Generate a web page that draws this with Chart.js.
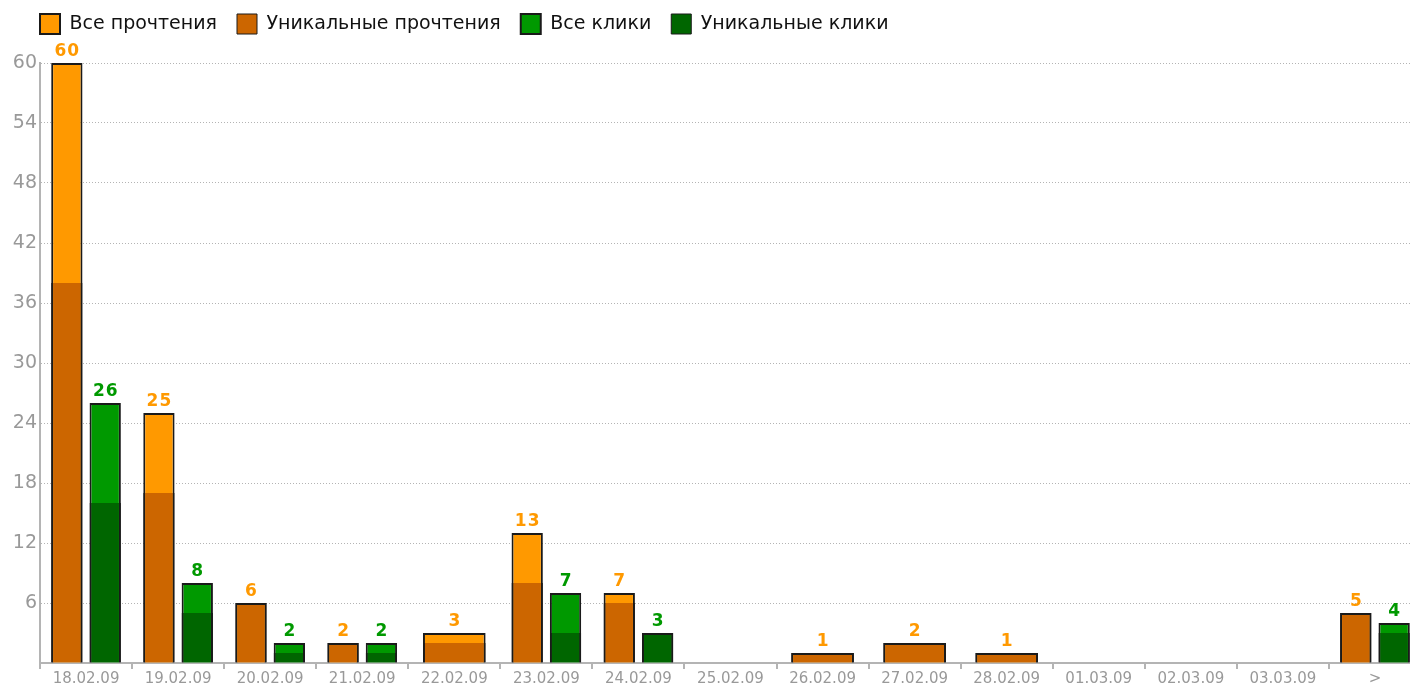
<!DOCTYPE html>
<html>
<head>
<meta charset="utf-8">
<script src="https://cdn.jsdelivr.net/npm/chart.js@4/dist/chart.umd.min.js"></script>
<style>
    html, body { margin: 0; padding: 0; background: #fff; overflow: hidden; }
    .chart-box { width: 1421px; height: 687px; }
</style>
</head>
<body>
<div class="chart-box"><canvas id="chart"></canvas></div>
<script>
const labels = ['18.02.09', '19.02.09', '20.02.09', '21.02.09', '22.02.09', '23.02.09', '24.02.09',
    '25.02.09', '26.02.09', '27.02.09', '28.02.09', '01.03.09', '02.03.09', '03.03.09', '>'];
const allReads     = [60, 25, 6, 2, 3, 13, 7, 0, 1, 2, 1, 0, 0, 0, 5];
const uniqueReads  = [38, 17, 6, 2, 2,  8, 6, 0, 1, 2, 1, 0, 0, 0, 5];
const allClicks    = [26,  8, 2, 2, 0,  7, 3, 0, 0, 0, 0, 0, 0, 0, 4];
const uniqueClicks = [16,  5, 1, 1, 0,  3, 3, 0, 0, 0, 0, 0, 0, 0, 3];
const yTicks = [0, 6, 12, 18, 24, 30, 36, 42, 48, 54, 60];

// zero -> no bar, so the other group takes the whole category
const orNull = arr => arr.map(v => v === 0 ? null : v);

// unique bar sits over the full bar: no top border unless it reaches the top
function uniqueBorder(all, uniq) {
    return ctx => {
        if (ctx.type !== 'data') return 2;
        const i = ctx.dataIndex;
        return { left: 2, right: 2, bottom: 0, top: all[i] === uniq[i] ? 2 : 0 };
    };
}

const valueLabels = {
    id: 'valueLabels',
    afterDatasetsDraw(chart) {
        const ctx = chart.ctx;
        ctx.save();
        ctx.font = 'bold 17px "DejaVu Sans"';
        ctx.textAlign = 'center';
        ctx.textBaseline = 'alphabetic';
        ctx.letterSpacing = '1px';
        [[0, allReads, '#ff9900'], [2, allClicks, '#009900']].forEach(([idx, values, color]) => {
            const meta = chart.getDatasetMeta(idx);
            ctx.fillStyle = color;
            meta.data.forEach((bar, i) => {
                if (!values[i]) return;
                ctx.fillText(String(values[i]), bar.x + 0.5, bar.y - 7);
            });
        });
        ctx.restore();
    }
};

// legend height fixed so the plot starts at the 60 line; legend nudged right
const legendFit = {
    id: 'legendFit',
    beforeInit(chart) {
        const fit = chart.legend.fit;
        chart.legend.fit = function () {
            fit.bind(chart.legend)();
            this.height = 69;
        };
    },
    afterLayout(chart) {
        chart.legend.left += 10;
        chart.legend.right += 10;
    }
};

const chart = new Chart(document.getElementById('chart'), {
    type: 'bar',
    data: {
        labels: labels,
        datasets: [
            {
                label: 'Все прочтения', data: orNull(allReads), stack: 'reads', order: 1,
                backgroundColor: '#ff9900', borderColor: '#1a1a1a', borderWidth: 2
            },
            {
                label: 'Уникальные прочтения', data: orNull(uniqueReads), stack: 'reads', order: 0,
                backgroundColor: '#cc6600', borderColor: '#1a1a1a',
                borderWidth: uniqueBorder(allReads, uniqueReads), borderSkipped: false
            },
            {
                label: 'Все клики', data: orNull(allClicks), stack: 'clicks', order: 1,
                backgroundColor: '#009900', borderColor: '#1a1a1a', borderWidth: 2
            },
            {
                label: 'Уникальные клики', data: orNull(uniqueClicks), stack: 'clicks', order: 0,
                backgroundColor: '#006600', borderColor: '#1a1a1a',
                borderWidth: uniqueBorder(allClicks, uniqueClicks), borderSkipped: false
            }
        ]
    },
    options: {
        responsive: true,
        maintainAspectRatio: false,
        animation: false,
        skipNull: true,
        categoryPercentage: 0.833,
        barPercentage: 0.817,
        layout: { padding: { left: 10, top: -6, right: 0, bottom: 0 } },
        plugins: {
            tooltip: { enabled: false },
            legend: {
                position: 'top',
                align: 'start',
                labels: {
                    boxWidth: 20,
                    boxHeight: 20,
                    padding: 20,
                    color: '#111',
                    font: { family: '"DejaVu Sans"', size: 19 },
                    sort: (a, b) => a.datasetIndex - b.datasetIndex
                }
            }
        },
        scales: {
            x: {
                stacked: true,
                grid: { drawOnChartArea: false, drawTicks: true, tickLength: 6, color: '#b4b4b4', lineWidth: 2, offset: true },
                border: { color: '#b4b4b4', width: 2 },
                ticks: {
                    color: '#999999', padding: 1, maxRotation: 0, autoSkip: false,
                    font: { family: '"DejaVu Sans"', size: 15 }
                },
                afterFit: scale => { scale.height = 24; }
            },
            y: {
                stacked: false,
                min: 0,
                max: 60,
                afterBuildTicks: scale => { scale.ticks = yTicks.map(v => ({ value: v })); },
                grid: {
                    drawTicks: false,
                    color: ctx => ctx.tick && ctx.tick.value === 0 ? 'rgba(0,0,0,0)' : '#b4b4b4',
                    lineWidth: 1
                },
                border: { color: '#b4b4b4', width: 2, dash: [1, 2] },
                ticks: {
                    color: '#999999', padding: 3,
                    font: { family: '"DejaVu Sans"', size: 19 },
                    callback: v => v === 0 ? '' : v
                },
                afterFit: scale => { scale.width = 30; }
            }
        }
    },
    plugins: [valueLabels, legendFit]
});
</script>
</body>
</html>
